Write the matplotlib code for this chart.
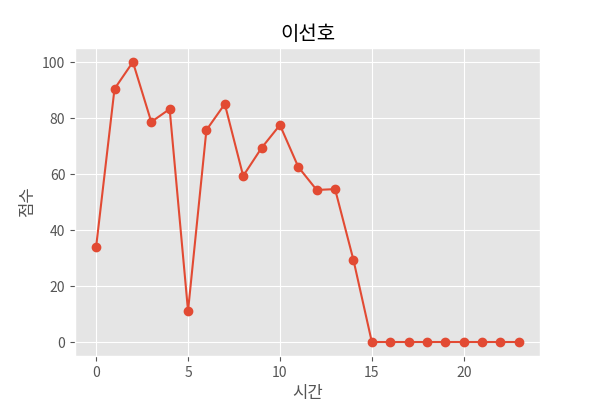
import matplotlib

matplotlib.use("Agg")
import matplotlib.pyplot as plt  # noqa: E402

hours = list(range(24))
scores = [34, 90.4, 100, 78.6, 83.2, 11.1, 75.7, 85, 59.3, 69.3, 77.5, 62.5,
          54.3, 54.6, 29.3, 0, 0, 0, 0, 0, 0, 0, 0, 0]

plt.style.use("ggplot")
plt.rcParams["font.family"] = ["Noto Sans CJK KR", "DejaVu Sans"]

fig, ax = plt.subplots(figsize=(6, 4), dpi=100)
ax.plot(hours, scores, marker="o")
ax.set_title("이선호")
ax.set_xlabel("시간")
ax.set_ylabel("점수")
fig.savefig("out.png")
